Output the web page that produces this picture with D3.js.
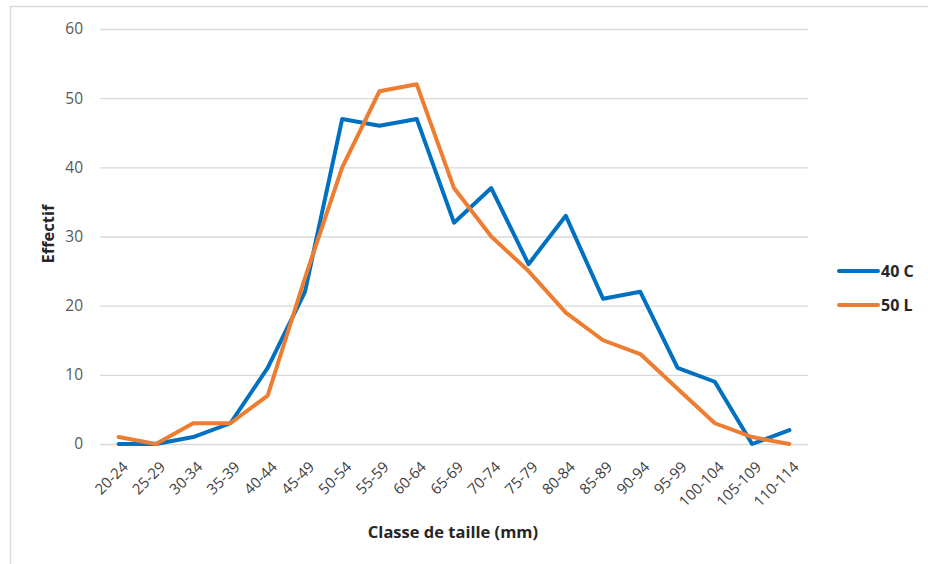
<!DOCTYPE html>
<html>
<head>
<meta charset="utf-8">
<script src="https://cdn.jsdelivr.net/npm/d3@7"></script>
<style>
  html, body { margin: 0; padding: 0; background: #fff; }
  svg { display: block; }
  text { font-family: "Open Sans", "Noto Sans", sans-serif; }
</style>
</head>
<body>
<div id="chart"></div>
<script>
// Size classes (mm) and counts per class for each sample
const categories = ["20-24","25-29","30-34","35-39","40-44","45-49","50-54","55-59","60-64","65-69",
  "70-74","75-79","80-84","85-89","90-94","95-99","100-104","105-109","110-114"];
const series40C = [0, 0, 1, 3, 11, 22, 47, 46, 47, 32, 37, 26, 33, 21, 22, 11, 9, 0, 2];
const series50L = [1, 0, 3, 3, 7, 24, 40, 51, 52, 37, 30, 25, 19, 15, 13, 8, 3, 1, 0];
const yTicks = [0, 10, 20, 30, 40, 50, 60];
const seriesNames = ["40 C", "50 L"];
const seriesColors = ["#0070C0", "#ED7D31"];

const W = 928, H = 564;
const plot = { left: 100, right: 808, top: 29, bottom: 444 };

const svg = d3.select("#chart").append("svg").attr("width", W).attr("height", H);

// outer chart frame (left and top edges visible)
svg.append("path")
  .attr("d", `M10.5,${H} V6.5 H${W}`)
  .attr("fill", "none").attr("stroke", "#d9d9d9").attr("stroke-width", 1.5);

const x = d3.scalePoint().domain(categories).range([plot.left, plot.right]).padding(0.5);
const y = d3.scaleLinear().domain([0, 60]).range([plot.bottom, plot.top]);

// horizontal gridlines + y labels
const yAxis = d3.axisLeft(y).tickValues(yTicks).tickSize(-(plot.right - plot.left)).tickPadding(17);
const gy = svg.append("g").attr("transform", `translate(${plot.left},0)`).call(yAxis);
gy.select(".domain").remove();
gy.selectAll(".tick line").attr("stroke", "#d9d9d9").attr("stroke-width", 1.3);
gy.selectAll(".tick text").attr("fill", "#595959").attr("font-size", 15.5);

// x labels, rotated
const xAxis = d3.axisBottom(x).tickSize(0).tickPadding(0);
const gx = svg.append("g").attr("transform", `translate(0,${plot.bottom})`).call(xAxis);
gx.select(".domain").remove();
gx.selectAll(".tick text")
  .attr("fill", "#404040").attr("font-size", 15)
  .attr("text-anchor", "end")
  .attr("dy", null).attr("y", 0)
  .attr("transform", "translate(7,21) rotate(-45)")
  .attr("dominant-baseline", "middle");

// series lines
const line = d3.line().x((d, i) => x(categories[i])).y(d => y(d));
[series40C, series50L].forEach((s, k) => {
  svg.append("path").datum(s)
    .attr("d", line)
    .attr("fill", "none")
    .attr("stroke", seriesColors[k])
    .attr("stroke-width", 4)
    .attr("stroke-linejoin", "round")
    .attr("stroke-linecap", "round");
});

// axis titles
svg.append("text")
  .attr("x", 453).attr("y", 538)
  .attr("text-anchor", "middle")
  .attr("font-size", 16.5).attr("font-weight", "bold").attr("fill", "#262626")
  .text("Classe de taille (mm)");
svg.append("text")
  .attr("transform", "translate(54,234) rotate(-90)")
  .attr("text-anchor", "middle")
  .attr("font-size", 16.5).attr("font-weight", "bold").attr("fill", "#262626")
  .text("Effectif");

// legend
const leg = svg.append("g");
seriesNames.forEach((name, k) => {
  const ly = 271 + k * 34;
  leg.append("line")
    .attr("x1", 839).attr("x2", 878).attr("y1", ly).attr("y2", ly)
    .attr("stroke", seriesColors[k]).attr("stroke-width", 4).attr("stroke-linecap", "round");
  leg.append("text")
    .attr("x", 881).attr("y", ly).attr("dy", "0.35em")
    .attr("font-size", 16).attr("font-weight", "bold").attr("fill", "#262626")
    .text(name);
});
</script>
</body>
</html>
